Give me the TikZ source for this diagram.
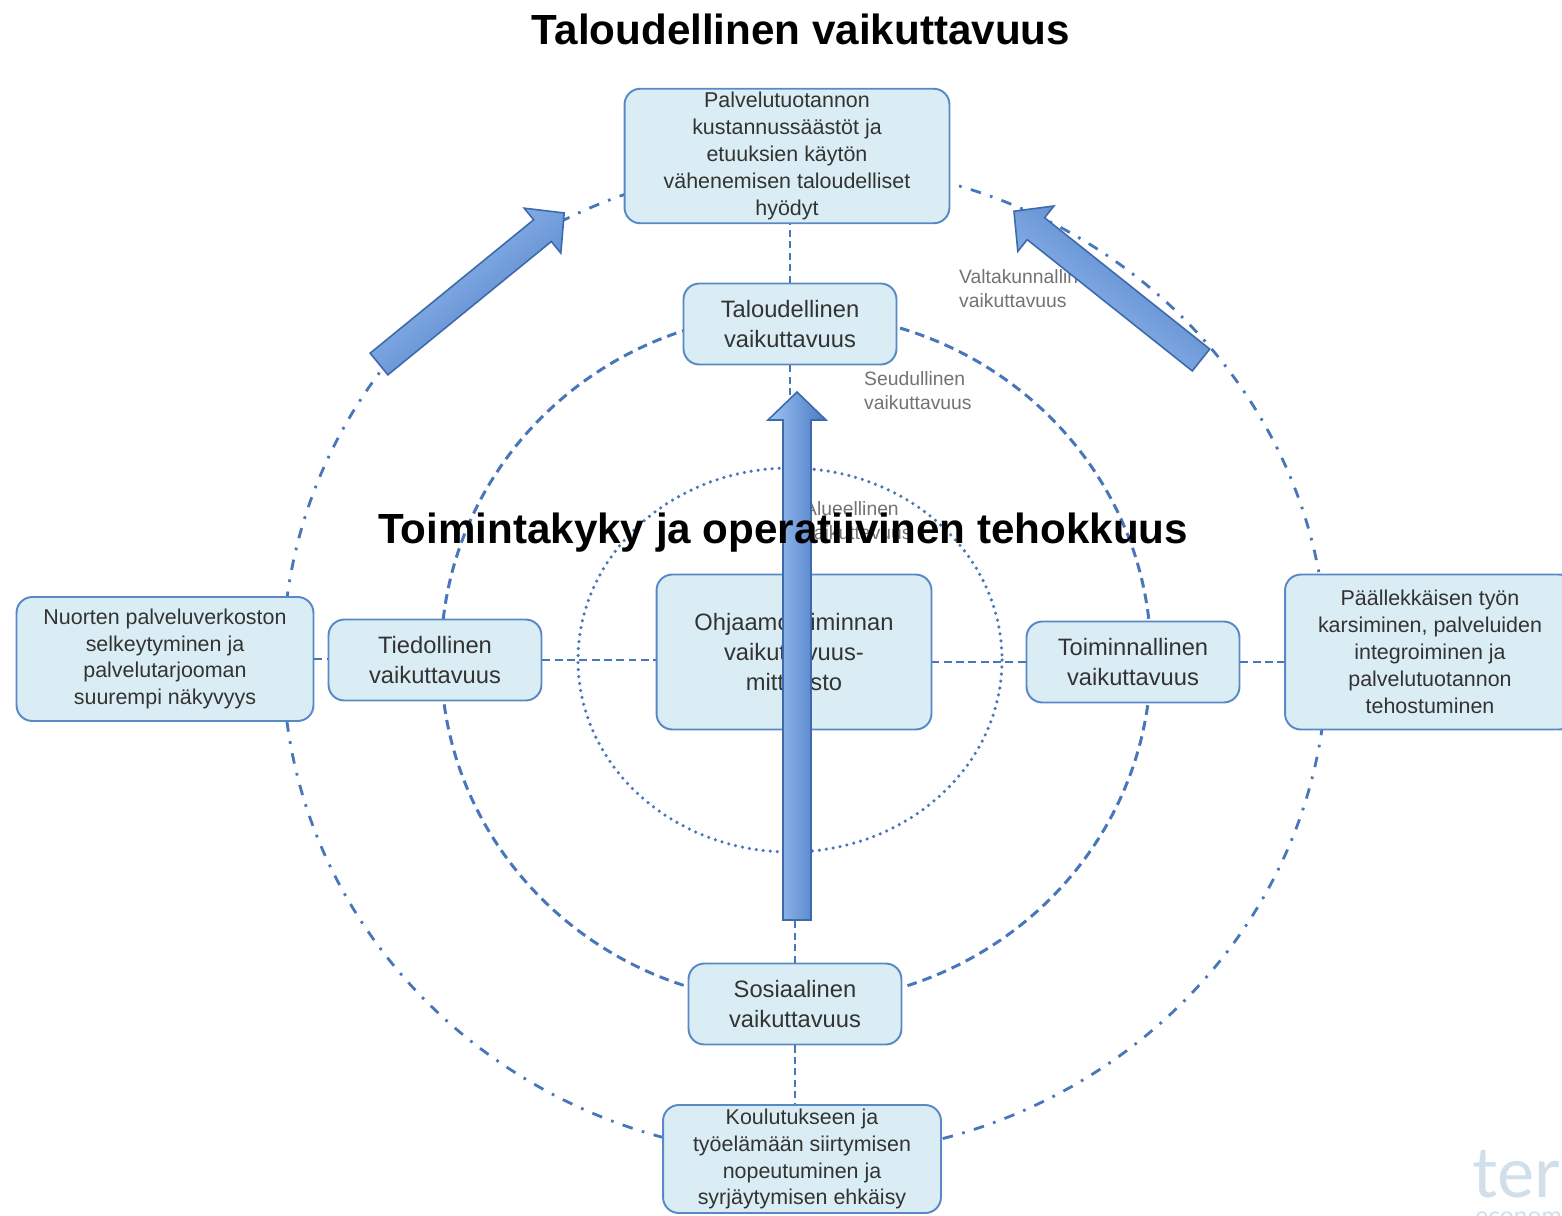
\documentclass[tikz,border=0pt]{standalone}
\usepackage{fontspec}
\setmainfont{Liberation Sans}
\newfontfamily\logofont{Lato}
\usetikzlibrary{positioning,calc}
\definecolor{colorFILL}{RGB}{219,237,244}
\definecolor{colorBOX}{RGB}{88,136,198}
\definecolor{colorRING}{RGB}{72,118,186}
\definecolor{colorARL}{RGB}{160,198,244}
\definecolor{colorARD}{RGB}{72,120,196}
\definecolor{colorARB}{RGB}{62,106,172}
\definecolor{colorLOGO}{RGB}{208,223,233}
\colorlet{colorTXT}{black!80}
\colorlet{colorLBL}{black!55}
\tikzset{
   every path/.style={>=stealth},
   box/.style={rectangle,rounded corners=9pt,draw=colorBOX,line width=1.1pt,fill=colorFILL,text=colorTXT,align=center,inner sep=2pt},
   shortbox/.style={box,minimum width=4.26cm,minimum height=1.62cm,font=\fontsize{13.5}{17}\selectfont},
   longbox/.style={box,font=\fontsize{12.2}{15.3}\selectfont},
   ringout/.style={draw=colorRING,line width=1.6pt,dash pattern=on 6pt off 5.5pt on 1.5pt off 5.5pt},
   ringmid/.style={draw=colorRING,line width=1.7pt,dash pattern=on 5.5pt off 3.5pt},
   ringin/.style={draw=colorRING,line width=2pt,line cap=round,dash pattern=on 0pt off 4pt},
   hlink/.style={draw=colorRING,line width=1.3pt,dash pattern=on 4.5pt off 2.5pt},
   vlink/.style={draw=colorRING,line width=1.1pt,dash pattern=on 4pt off 2.5pt},
   bigarrow/.style={draw=colorARB,line width=0.9pt,top color=colorARL,bottom color=colorARD},
   headline/.style={font=\fontsize{24}{28}\selectfont\bfseries,text=black,anchor=base},
   ringlbl/.style={font=\fontsize{11}{13.6}\selectfont,text=colorLBL,align=left,anchor=west},
}

\begin{document}
\begin{tikzpicture}[x=0.02cm,y=-0.02cm]
      \fill[white] (0,0) rectangle (1562,1215);
      \useasboundingbox (0,0) rectangle (1562,1215);
      % rings
      \coordinate (cout) at (805,660);
      \coordinate (cmid) at (796,658);
      \coordinate (cin) at (790,660);
      \draw[ringout] (cout) ellipse [x radius=522, y radius=496];
      \draw[ringmid] (cmid) ellipse [x radius=355, y radius=345];
      \draw[ringin] (cin) ellipse [x radius=212, y radius=192];
      % boxes
      \node[longbox,minimum width=6.5cm,minimum height=2.64cm] (topb) at (787,156) {Palvelutuotannon\\kustannussäästöt ja\\etuuksien käytön\\vähenemisen taloudelliset\\hyödyt};
      \node[shortbox] (talb) at (790,324) {Taloudellinen\\vaikuttavuus};
      \node[shortbox] (tieb) at (435,660) {Tiedollinen\\vaikuttavuus};
      \node[shortbox] (toib) at (1133,662) {Toiminnallinen\\vaikuttavuus};
      \node[shortbox] (sosb) at (795,1004) {Sosiaalinen\\vaikuttavuus};
      \node[box,minimum width=5.5cm,minimum height=3.1cm,font=\fontsize{13.5}{17}\selectfont] (ctrb) at (794,652) {Ohjaamotoiminnan\\vaikuttavuus-\\mittaristo};
      \node[longbox,minimum width=5.94cm,minimum height=2.48cm] (lftb) at (165,659) {Nuorten palveluverkoston\\selkeytyminen ja\\palvelutarjooman\\suurempi näkyvyys};
      \node[longbox,minimum width=5.8cm,minimum height=3.1cm] (rgtb) at (1430,652) {Päällekkäisen työn\\karsiminen, palveluiden\\integroiminen ja\\palvelutuotannon\\tehostuminen};
      \node[longbox,minimum width=5.56cm,minimum height=2.16cm] (botb) at (802,1159) {Koulutukseen ja\\työelämään siirtymisen\\nopeutuminen ja\\syrjäytymisen ehkäisy};
      % links
      \draw[vlink] (talb.north) -- (talb.north |- topb.south);
      \draw[vlink] (talb.south) -- (talb.south |- ctrb.north);
      \draw[vlink] (sosb.north) -- (sosb.north |- ctrb.south);
      \draw[vlink] (sosb.south) -- (sosb.south |- botb.north);
      \draw[hlink] (tieb.east) -- (tieb.east -| ctrb.west);
      \draw[hlink] (lftb.east) -- (lftb.east -| tieb.west);
      \draw[hlink] (toib.west) -- (toib.west -| ctrb.east);
      \draw[hlink] (toib.east) -- (toib.east -| rgtb.west);
      % ring labels
      \node[ringlbl] (lbnat) at (953,289) {Valtakunnallinen\\vaikuttavuus};
      \node[ringlbl] (lbreg) at (858,391) {Seudullinen\\vaikuttavuus};
      \node[ringlbl] (lbloc) at (798,521) {Alueellinen\\vaikuttavuus};
      % big arrows
      \begin{scope}[shift={(379,364)},rotate=39.2]
        \draw[bigarrow,shading angle=39.2] (0,-14) -- (211,-14) -- (211,-29) -- (239,0) -- (211,29) -- (211,14) -- (0,14) -- cycle;
      \end{scope}
      \begin{scope}[shift={(1201,360)},rotate=141.5]
        \draw[bigarrow,shading angle=141.5] (0,-14) -- (211,-14) -- (211,-29) -- (239,0) -- (211,29) -- (211,14) -- (0,14) -- cycle;
      \end{scope}
      \begin{scope}[shift={(797,920)},rotate=90]
        \draw[bigarrow,shading angle=90] (0,-14) -- (500,-14) -- (500,-29) -- (528,0) -- (500,29) -- (500,14) -- (0,14) -- cycle;
      \end{scope}
      % headlines
      \node[headline] (ttl) at (801,44) {Taloudellinen vaikuttavuus};
      \node[headline] (ttl2) at (783,543) {Toimintakyky ja operatiivinen tehokkuus};
      % logo
      \node[anchor=base west,inner sep=0pt,text=colorLOGO,font=\logofont\fontsize{40}{40}\selectfont] (logo) at (1472,1197) {ter};
      \node[anchor=base west,inner sep=0pt,text=colorLOGO,font=\logofont\fontsize{14}{14}\selectfont] (logo2) at (1475,1224) {econom};
    \end{tikzpicture}
\end{document}
